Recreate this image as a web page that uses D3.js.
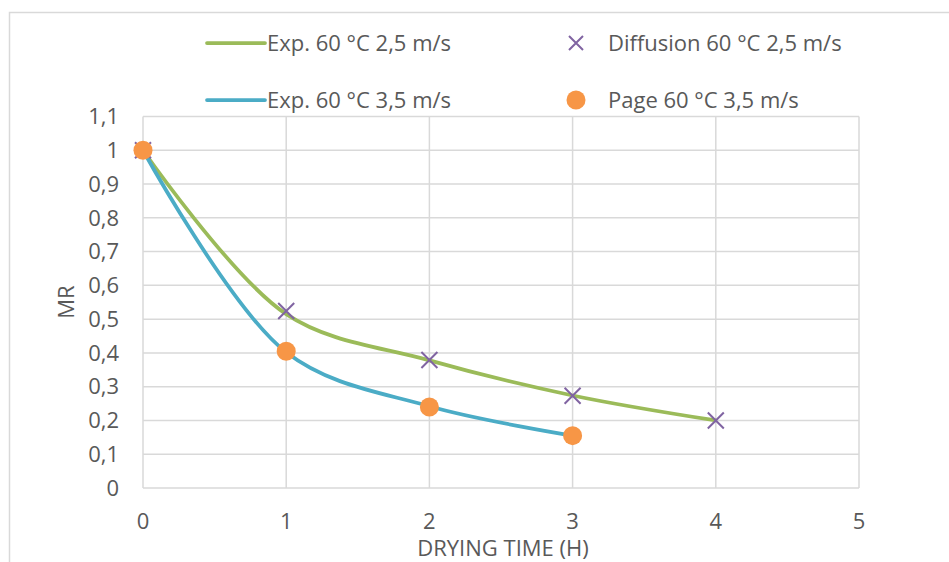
<!DOCTYPE html>
<html>
<head>
<meta charset="utf-8">
<script src="https://cdn.jsdelivr.net/npm/d3@7"></script>
<style>
  body { margin: 0; background: #fff; }
  text { font-family: "Open Sans", "Noto Sans", sans-serif; fill: #595959; }
</style>
</head>
<body>
<div id="chart"></div>
<script>
// data
const timeExp25 = [0, 1, 2, 3, 4];
const mrExp25 = [1, 0.515, 0.378, 0.274, 0.2];
const timeExp35 = [0, 1, 2, 3];
const mrExp35 = [1, 0.402, 0.242, 0.155];
const timeDiff = [0, 1, 2, 3, 4];
const mrDiff = [1, 0.524, 0.379, 0.273, 0.2];
const timePage = [0, 1, 2, 3];
const mrPage = [1, 0.405, 0.24, 0.155];
const xTicks = [0, 1, 2, 3, 4, 5];
const yTicks = [0, 0.1, 0.2, 0.3, 0.4, 0.5, 0.6, 0.7, 0.8, 0.9, 1, 1.1];
const legendNames = ["Exp. 60 °C 2,5 m/s", "Diffusion 60 °C 2,5 m/s", "Exp. 60 °C 3,5 m/s", "Page 60 °C 3,5 m/s"];

const width = 949, height = 562;
const green = "#9bbb59", blue = "#4bacc6", purple = "#8064a2", orange = "#f79646";
const gridCol = "#d9d9d9";
const fontSize = '22px';

const svg = d3.select('#chart').append('svg')
    .attr('width', width)
    .attr('height', height);

// outer chart frame (cut at right and bottom)
svg.append('path')
    .attr('d', `M 9.5 ${height} L 9.5 12.5 L ${width} 12.5`)
    .attr('fill', 'none')
    .attr('stroke', gridCol)
    .attr('stroke-width', 1.5);

const x = d3.scaleLinear().domain([0, 5]).range([143, 859]);
const y = d3.scaleLinear().domain([0, 1.1]).range([488, 116.5]);

const fmt = d => String(+d.toFixed(1)).replace('.', ',');

// grid
const grid = svg.append('g');
grid.selectAll('.hg')
    .data(yTicks)
    .enter()
    .append('line')
    .attr('x1', x(0)).attr('x2', x(5))
    .attr('y1', d => y(d)).attr('y2', d => y(d))
    .attr('stroke', gridCol)
    .attr('stroke-width', 1.5);
grid.selectAll('.vg')
    .data(xTicks)
    .enter()
    .append('line')
    .attr('x1', d => x(d)).attr('x2', d => x(d))
    .attr('y1', y(0)).attr('y2', y(1.1))
    .attr('stroke', gridCol)
    .attr('stroke-width', 1.5);

// tick labels
svg.append('g')
    .selectAll('text')
    .data(yTicks)
    .enter()
    .append('text')
    .attr('x', 119)
    .attr('y', d => y(d))
    .attr('dy', '0.35em')
    .attr('text-anchor', 'end')
    .style('font-size', fontSize)
    .text(fmt);

svg.append('g')
    .selectAll('text')
    .data(xTicks)
    .enter()
    .append('text')
    .attr('x', d => x(d))
    .attr('y', 521)
    .attr('dy', '0.35em')
    .attr('text-anchor', 'middle')
    .style('font-size', fontSize)
    .text(d => d);

// axis titles
svg.append('text')
    .attr('x', 503)
    .attr('y', 548)
    .attr('dy', '0.35em')
    .attr('text-anchor', 'middle')
    .style('font-size', fontSize)
    .text('DRYING TIME (H)');

svg.append('text')
    .attr('transform', 'translate(66, 302) rotate(-90)')
    .attr('dy', '0.35em')
    .attr('text-anchor', 'middle')
    .style('font-size', fontSize)
    .text('MR');

// smoothed lines
const line = d3.line()
    .x(d => x(d[0]))
    .y(d => y(d[1]))
    .curve(d3.curveCatmullRom.alpha(0.5));

svg.append('path')
    .datum(d3.zip(timeExp25, mrExp25))
    .attr('d', line)
    .attr('fill', 'none')
    .attr('stroke', green)
    .attr('stroke-width', 3.75);

svg.append('path')
    .datum(d3.zip(timeExp35, mrExp35))
    .attr('d', line)
    .attr('fill', 'none')
    .attr('stroke', blue)
    .attr('stroke-width', 3.75);

// markers
const cross = (s) => `M ${-s} ${-s} L ${s} ${s} M ${-s} ${s} L ${s} ${-s}`;

svg.append('g')
    .selectAll('path')
    .data(d3.zip(timeDiff, mrDiff))
    .enter()
    .append('path')
    .attr('transform', d => `translate(${x(d[0])}, ${y(d[1])})`)
    .attr('d', cross(8))
    .attr('stroke', purple)
    .attr('stroke-width', 2);

svg.append('g')
    .selectAll('circle')
    .data(d3.zip(timePage, mrPage))
    .enter()
    .append('circle')
    .attr('cx', d => x(d[0]))
    .attr('cy', d => y(d[1]))
    .attr('r', 9.5)
    .attr('fill', orange);

// legend
const legend = svg.append('g');
const leg = [
    {name: legendNames[0], kind: 'line', color: green, lx: 207, ly: 43},
    {name: legendNames[1], kind: 'cross', color: purple, lx: 576, ly: 43},
    {name: legendNames[2], kind: 'line', color: blue, lx: 207, ly: 100},
    {name: legendNames[3], kind: 'dot', color: orange, lx: 576, ly: 100},
];
leg.forEach(d => {
    let tx;
    if (d.kind === 'line') {
        legend.append('line')
            .attr('x1', d.lx).attr('x2', d.lx + 58)
            .attr('y1', d.ly).attr('y2', d.ly)
            .attr('stroke', d.color)
            .attr('stroke-width', 3.75)
            .attr('stroke-linecap', 'round');
        tx = d.lx + 60;
    } else if (d.kind === 'cross') {
        legend.append('path')
            .attr('transform', `translate(${d.lx}, ${d.ly})`)
            .attr('d', cross(7))
            .attr('stroke', d.color)
            .attr('stroke-width', 2);
        tx = d.lx + 32;
    } else {
        legend.append('circle')
            .attr('cx', d.lx).attr('cy', d.ly)
            .attr('r', 9.5)
            .attr('fill', d.color);
        tx = d.lx + 32;
    }
    legend.append('text')
        .attr('x', tx)
        .attr('y', d.ly)
        .attr('dy', '0.35em')
        .style('font-size', fontSize)
        .text(d.name);
});
</script>
</body>
</html>
